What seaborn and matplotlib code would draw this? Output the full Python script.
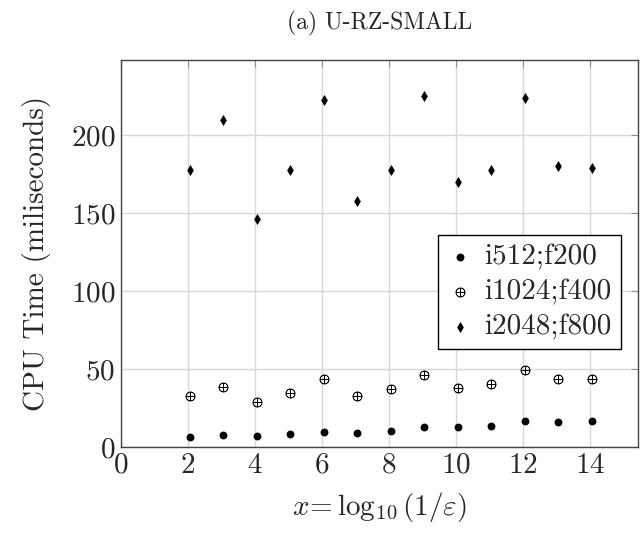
import matplotlib
matplotlib.use("Agg")
import matplotlib.pyplot as plt
import seaborn as sns
import pandas as pd

# data
x_vals = [2.05, 3.05, 4.05, 5.05, 6.05, 7.05, 8.05, 9.05, 10.05, 11.05, 12.05, 13.05, 14.05]
i512_f200 = [6.4, 7.5, 6.8, 8.1, 9.6, 9.0, 10.3, 13.0, 12.6, 13.7, 16.9, 15.8, 16.7]
i1024_f400 = [32.7, 38.7, 28.8, 34.6, 43.4, 32.7, 37.4, 46.3, 38.0, 40.4, 49.6, 43.4, 43.4]
i2048_f800 = [177.8, 209.4, 146.2, 177.8, 222.6, 157.5, 177.8, 225.2, 170.1, 177.8, 223.7, 180.3, 179.0]
series_names = ["i512;f200", "i1024;f400", "i2048;f800"]

sns.set_style("white")
plt.rcParams['font.family'] = 'serif'
plt.rcParams['font.serif'] = ['cmr10', 'DejaVu Serif']
plt.rcParams['mathtext.fontset'] = 'cm'
plt.rcParams['axes.formatter.use_mathtext'] = True

df = pd.DataFrame({
    'x': x_vals * 3,
    'y': i512_f200 + i1024_f400 + i2048_f800,
    'series': [series_names[0]] * 13 + [series_names[1]] * 13 + [series_names[2]] * 13,
})

fig = plt.figure(figsize=(6.4, 5.37), dpi=100)
ax = fig.add_axes([0.189, 0.1676, 0.808, 0.7204])

styles = {
    "i512;f200": dict(marker='o', s=32, linewidth=0),
    "i1024;f400": dict(marker=r'$\oplus$', s=45, linewidth=0.4),
    "i2048;f800": dict(marker='d', s=32, linewidth=0),
}
for name in series_names:
    sub = df[df['series'] == name]
    sns.scatterplot(data=sub, x='x', y='y', ax=ax, color='black',
                    edgecolor='black', label=name, **styles[name])

ax.set_xlim(0, 15.43)
ax.set_ylim(0, 248)
ax.set_xticks(range(0, 15, 2))
ax.set_yticks([0, 50, 100, 150, 200])
ax.grid(True, color='#d8d8d8', linewidth=1)
ax.set_axisbelow(True)
ax.tick_params(direction='in', length=5, color='#909090', labelsize=21,
               top=True, right=True, pad=4)
for sp in ax.spines.values():
    sp.set_color('#444444')
    sp.set_linewidth(1)

ax.set_xlabel(r'$x\!=\log_{10}(1/\varepsilon)$', fontsize=21, labelpad=8)
ax.set_ylabel('CPU Time (miliseconds)', fontsize=21, labelpad=14)
ax.set_title('(a) U-RZ-SMALL', fontsize=17, pad=22)

leg = ax.legend(loc='upper left', bbox_to_anchor=(0.613, 0.548), fontsize=21,
                frameon=True, fancybox=False, edgecolor='black', framealpha=1,
                handletextpad=0.4, borderpad=0.3, labelspacing=0.3,
                handlelength=0.9, markerscale=1.0, borderaxespad=0)
leg.get_frame().set_linewidth(1)

plt.savefig('out.png', dpi=100)
